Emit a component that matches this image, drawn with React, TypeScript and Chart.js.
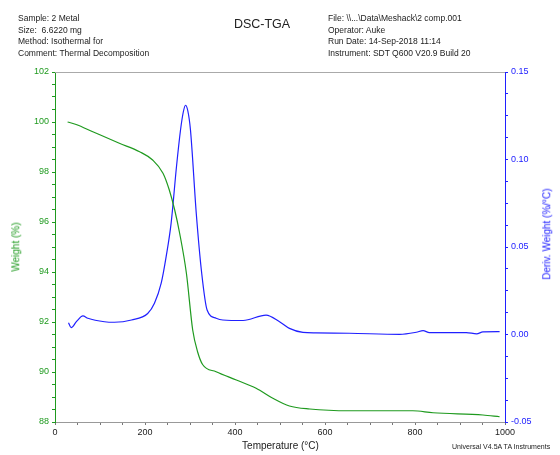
import React, { useEffect, useRef } from "react";
import { Chart, registerables } from "chart.js";

Chart.register(...registerables);

// TGA weight curve
const tgaTemp = [28, 47, 84, 143, 188, 217, 240, 254, 266, 277, 292, 306, 317, 328, 358, 403, 447, 484, 521, 566, 654, 795, 840, 951, 988];
const tgaWeight = [100.0, 99.9, 99.61, 99.15, 98.81, 98.48, 97.95, 97.28, 96.48, 95.55, 93.95, 91.68, 90.8, 90.3, 90.01, 89.68, 89.35, 88.95, 88.64, 88.52, 88.45, 88.45, 88.37, 88.28, 88.21];

// DTG derivative curve
const dtgTemp = [30, 36, 48, 62, 73, 110, 132, 170, 206, 221, 236, 247, 258, 270, 279, 285, 290, 295, 301, 314, 326, 338, 358, 373, 418, 469, 499, 521, 551, 580, 654, 766, 803, 818, 832, 914, 937, 951, 988];
const dtgDeriv = [0.0067, 0.0039, 0.0075, 0.0106, 0.0093, 0.0073, 0.007, 0.0083, 0.012, 0.0178, 0.0293, 0.0445, 0.0635, 0.096, 0.117, 0.127, 0.131, 0.128, 0.117, 0.069, 0.035, 0.014, 0.0093, 0.0083, 0.008, 0.0111, 0.0073, 0.0035, 0.0012, 0.0009, 0.0007, 0.0001, 0.0013, 0.0022, 0.0011, 0.0011, 0.0004, 0.0015, 0.0016];

const headerLeft = ["Sample: 2 Metal", "Size:  6.6220 mg", "Method: Isothermal for", "Comment: Thermal Decomposition"];
const headerRight = ["File: \\\\...\\Data\\Meshack\\2 comp.001", "Operator: Auke", "Run Date: 14-Sep-2018 11:14", "Instrument: SDT Q600 V20.9 Build 20"];
const chartTitle = "DSC-TGA";
const footer = "Universal V4.5A TA Instruments";
const xTitle = "Temperature (°C)";
const yTitle = "Weight (%)";
const y1Title = "Deriv. Weight (%/°C)";

const GREEN = "#1f9a1f";
const BLUE = "#2020ff";
const FONT = "'Liberation Sans', Arial, sans-serif";

const isMult = (v: number, m: number) => Math.abs(v / m - Math.round(v / m)) < 1e-6;

export default function App() {
  const ref = useRef<HTMLCanvasElement | null>(null);
  useEffect(() => {
    if (!ref.current) return;
    const topBorder = {
      id: "topBorder",
      afterDraw(chart: any) {
        const { ctx, chartArea } = chart;
        ctx.save();
        ctx.strokeStyle = "#aaaaaa";
        ctx.lineWidth = 1;
        ctx.beginPath();
        ctx.moveTo(chartArea.left, Math.round(chartArea.top) + 0.5);
        ctx.lineTo(chartArea.right, Math.round(chartArea.top) + 0.5);
        ctx.stroke();
        ctx.restore();
      },
    };
    const chart = new Chart(ref.current, {
      type: "line",
      data: {
        datasets: [
          {
            label: "Weight",
            data: tgaTemp.map((t, i) => ({ x: t, y: tgaWeight[i] })),
            borderColor: GREEN,
            borderWidth: 1.2,
            pointRadius: 0,
            cubicInterpolationMode: "monotone",
            yAxisID: "y",
          },
          {
            label: "Deriv",
            data: dtgTemp.map((t, i) => ({ x: t, y: dtgDeriv[i] })),
            borderColor: BLUE,
            borderWidth: 1.2,
            pointRadius: 0,
            cubicInterpolationMode: "monotone",
            yAxisID: "y1",
          },
        ],
      },
      plugins: [topBorder],
      options: {
        responsive: false,
        animation: false,
        layout: { padding: { top: 72, left: 0, right: 0, bottom: 0 } },
        plugins: { legend: { display: false }, tooltip: { enabled: false } },
        scales: {
          x: {
            type: "linear",
            min: 0,
            max: 1000,
            position: "bottom",
            ticks: {
              stepSize: 50,
              autoSkip: false,
              maxRotation: 0,
              padding: 2,
              color: "#222",
              font: { family: FONT, size: 9 },
              callback: (v: any) => (isMult(Number(v), 200) ? String(v) : ""),
            },
            grid: { drawOnChartArea: false, tickLength: 3, color: "#777" },
            border: { color: "#999" },
            afterFit: (s: any) => {
              s.height = 33;
            },
          },
          y: {
            position: "left",
            min: 88,
            max: 102,
            ticks: {
              stepSize: 0.5,
              autoSkip: false,
              padding: 3,
              color: GREEN,
              font: { family: FONT, size: 9 },
              callback: (v: any) => (isMult(Number(v), 2) ? String(v) : ""),
            },
            grid: { drawOnChartArea: false, tickLength: 3, color: GREEN },
            border: { color: GREEN },
            afterFit: (s: any) => {
              s.width = 55;
            },
          },
          y1: {
            position: "right",
            min: -0.05,
            max: 0.15,
            ticks: {
              stepSize: 0.0125,
              autoSkip: false,
              padding: 3,
              color: BLUE,
              font: { family: FONT, size: 9 },
              callback: (v: any) => (isMult(Number(v), 0.05) ? Number(v).toFixed(2) : ""),
            },
            grid: { drawOnChartArea: false, tickLength: 3, color: BLUE },
            border: { color: BLUE },
            afterFit: (s: any) => {
              s.width = 55;
            },
          },
        },
      },
    } as any);
    return () => chart.destroy();
  }, []);

  const textStyle: React.CSSProperties = {
    position: "absolute",
    fontFamily: FONT,
    fontSize: 8.5,
    lineHeight: "11.5px",
    color: "#222",
    whiteSpace: "pre",
  };

  return (
    <div style={{ position: "fixed", left: 0, top: 0, width: 560, height: 455, background: "#fff" }}>
      <canvas ref={ref} width={560} height={455} style={{ position: "absolute", left: 0, top: 0 }} />
      <div style={{ ...textStyle, left: 18, top: 13 }}>
        {headerLeft.map((t, i) => (
          <div key={i}>{t}</div>
        ))}
      </div>
      <div style={{ ...textStyle, left: 328, top: 13 }}>
        {headerRight.map((t, i) => (
          <div key={i}>{t}</div>
        ))}
      </div>
      <div style={{ ...textStyle, left: 0, width: 524, textAlign: "center", top: 19, fontSize: 12.5 }}>{chartTitle}</div>
      <div style={{ ...textStyle, left: 0, width: 561, textAlign: "center", top: 440, fontSize: 10 }}>{xTitle}</div>
      <div style={{ ...textStyle, left: 452, top: 441, fontSize: 7 }}>{footer}</div>
      <div
        style={{
          ...textStyle,
          color: GREEN,
          fontSize: 10,
          left: 16,
          top: 247,
          transform: "translate(-50%, -50%) rotate(-90deg)",
        }}
      >
        {yTitle}
      </div>
      <div
        style={{
          ...textStyle,
          color: BLUE,
          fontSize: 10,
          left: 547,
          top: 234,
          transform: "translate(-50%, -50%) rotate(-90deg)",
        }}
      >
        {y1Title}
      </div>
    </div>
  );
}
